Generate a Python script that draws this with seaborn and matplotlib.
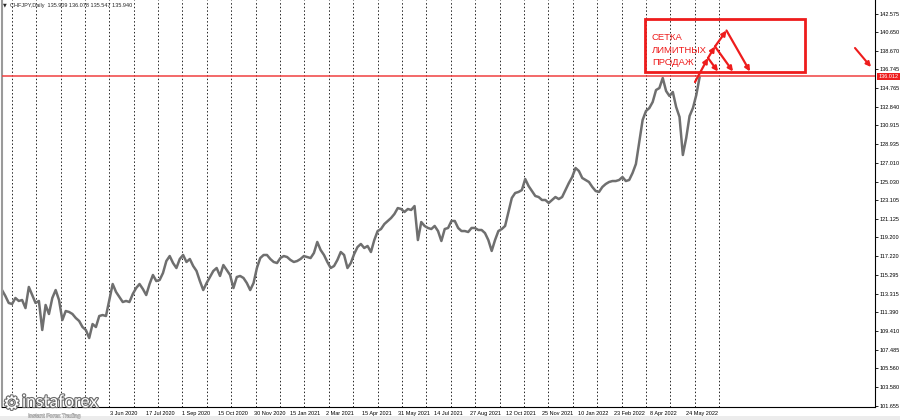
import numpy as np
import pandas as pd
import matplotlib
matplotlib.use('Agg')
import matplotlib.pyplot as plt
import matplotlib.patheffects as pe
from matplotlib.patches import Rectangle
import seaborn as sns

# CHFJPY daily, one close read every 3 bars (Jan 2020 -> Jun 2022)
closes = [
    113.71, 113.09, 112.36, 112.25, 112.88, 112.57, 112.67, 111.83, 114.03, 113.19,
    112.36, 112.57, 109.54, 112.15, 111.21, 112.88, 113.71, 112.67, 110.58, 111.52,
    111.42, 111.21, 110.79, 110.48, 109.85, 109.54, 108.70, 110.16, 109.85, 111.00,
    111.10, 111.00, 112.67, 114.34, 113.51, 112.98, 112.46, 112.57, 112.46, 113.30,
    113.92, 114.34, 113.82, 113.19, 114.34, 115.28, 114.65, 114.76, 115.49, 116.74,
    117.26, 116.53, 116.01, 116.95, 117.37, 116.64, 116.95, 116.22, 115.70, 114.65,
    113.71, 114.44, 115.07, 115.70, 116.01, 115.18, 116.32, 115.80, 115.28, 113.92,
    115.07, 115.18, 114.97, 114.44, 113.71, 114.44, 116.01, 117.05, 117.37, 117.37,
    116.95, 116.64, 116.53, 117.05, 117.26, 117.16, 116.85, 116.64, 116.74, 116.95,
    117.26, 117.16, 117.05, 117.58, 118.73, 117.89, 117.37, 116.64, 116.01, 116.22,
    116.85, 117.68, 117.37, 116.01, 116.53, 117.47, 118.20, 118.52, 118.10, 118.31,
    117.68, 118.93, 119.87, 120.08, 120.60, 120.92, 121.23, 121.65, 122.27, 122.17,
    121.86, 122.17, 122.07, 122.48, 118.93, 120.81, 120.40, 120.19, 120.08, 120.40,
    119.87, 118.83, 120.08, 120.19, 120.92, 120.92, 120.19, 119.87, 119.87, 119.77,
    120.19, 120.19, 119.98, 119.98, 119.66, 118.93, 117.79, 118.93, 119.87, 120.08,
    120.40, 121.86, 123.32, 123.84, 123.95, 124.15, 125.30, 124.57, 124.05, 123.53,
    123.42, 123.11, 123.11, 122.80, 123.11, 123.42, 123.21, 123.42, 124.15, 124.88,
    125.51, 126.45, 126.14, 125.41, 125.20, 124.99, 124.47, 124.05, 123.95, 124.47,
    124.78, 124.99, 125.09, 125.09, 125.20, 125.51, 125.09, 125.20, 125.93, 126.87,
    129.17, 131.46, 132.40, 132.71, 133.34, 134.59, 134.80, 135.85, 134.49, 133.97,
    134.39, 132.82, 131.78, 127.81, 129.58, 131.88, 132.71, 134.07, 135.94,
]
bar_step = 3

# first three labels sit under the watermark and are not readable
date_labels = ['', '', '', '3 Jun 2020', '17 Jul 2020',
               '1 Sep 2020', '15 Oct 2020', '30 Nov 2020', '15 Jan 2021', '2 Mar 2021',
               '15 Apr 2021', '31 May 2021', '14 Jul 2021', '27 Aug 2021', '12 Oct 2021',
               '25 Nov 2021', '10 Jan 2022', '23 Feb 2022', '8 Apr 2022', '24 May 2022']
label_step = 32.2  # bars between date labels

price_ticks = [142.575, 140.650, 138.670, 136.745, 134.765, 132.840, 130.915, 128.935,
               127.010, 125.030, 123.105, 121.125, 119.200, 117.220, 115.295, 113.315,
               111.390, 109.410, 107.485, 105.560, 103.580, 101.655]
last_price = 136.012
header = 'CHFJPY,Daily  135.909 136.078 135.547 135.940'
note_lines = ['СЕТКА', 'ЛИМИТНЫХ', 'ПРОДАЖ']

df = pd.DataFrame({'bar': np.arange(len(closes)) * bar_step, 'close': closes})

sns.set_style('white')
plt.rcParams['font.family'] = ['Liberation Sans', 'DejaVu Sans']

W, H = 900, 420
fig = plt.figure(figsize=(9, 4.2), dpi=100)
ax = fig.add_axes([2 / W, 13 / H, 873 / W, 1 - 13 / H])

# dotted vertical grid (MT4 style)
for k in range(30):
    ax.axvline(8.7 + 21.82 * k, color='#222222', lw=0.7, ls=(0, (1.5, 2.2)), zorder=0)

sns.lineplot(data=df, x='bar', y='close', ax=ax, color='#6f6f6f', linewidth=1.8, zorder=2)

px_per_bar = 1.118
ax.set_xlim(0, 873 / px_per_bar)
ax.set_ylim(101.50, 143.99)
ax.set_xlabel('')
ax.set_ylabel('')

ax.yaxis.tick_right()
ax.set_yticks(price_ticks)
ax.set_yticklabels([f'{v:.3f}' for v in price_ticks])
ax.tick_params(axis='y', length=2, width=0.6, pad=1.5, labelsize=4, colors='black')

ax.set_xticks([i * label_step for i in range(len(date_labels))])
ax.set_xticklabels(date_labels, ha='left')
ax.tick_params(axis='x', length=2, width=0.6, pad=1, labelsize=4, colors='black')

ax.spines['top'].set_visible(False)
ax.spines['left'].set_color('#9a9a9a')
ax.spines['left'].set_linewidth(1.5)
for s in ['right', 'bottom']:
    ax.spines[s].set_color('black')
    ax.spines[s].set_linewidth(0.8)

# current price line and tag
red = '#ee1c1c'
ax.axhline(last_price, color='#f04040', lw=1.1, zorder=3)
ax.text(1.004, last_price, f'{last_price:.3f}', transform=ax.get_yaxis_transform(),
        fontsize=4, color='white', va='center', ha='left', clip_on=False,
        bbox=dict(boxstyle='square,pad=0.25', fc=red, ec='none'))


def px(x, y):
    # image pixel (from top-left) -> data coords
    return ax.transData.inverted().transform(fig.transFigure.transform((x / W, 1 - y / H)))


# annotation box
x0, y0 = px(645, 72)
x1, y1 = px(805, 19)
ax.add_patch(Rectangle((x0, y0), x1 - x0, y1 - y0, fill=False, ec=red, lw=2, clip_on=False, zorder=5))
for line, yy in zip(note_lines, [37.5, 50.5, 62.5]):
    ax.text(*px(652, yy), line, color=red, fontsize=6.8, va='center', ha='left', zorder=6)

arrow = dict(arrowstyle='-|>', color=red, lw=1.6, mutation_scale=7, shrinkA=0, shrinkB=0)
apexes = [(708, 58), (715, 46.5), (726.5, 30.5)]
ups = [((695, 82), apexes[0]), (apexes[0], apexes[1]), (apexes[1], apexes[2])]
downs = [(apexes[0], (718, 71.5)), (apexes[1], (733, 71.5)), (apexes[2], (750, 71.5))]
for a, b in ups + downs:
    ax.annotate('', xy=px(*b), xytext=px(*a), arrowprops=arrow, annotation_clip=False, zorder=6)
ax.annotate('', xy=px(871, 67), xytext=px(855, 48), arrowprops=dict(arrow, lw=1.5),
            annotation_clip=False)

# header
fig.text(3 / W, 1 - 5 / H, '▼', fontsize=3.5, va='center', family=['DejaVu Sans'])
fig.text(10 / W, 1 - 5 / H, header, fontsize=4, va='center')

# bottom strip
fig.add_artist(Rectangle((0, 0), 1, 4 / H, transform=fig.transFigure, fc='#ececec', ec='none', zorder=-1))

# watermark logo
halo = [pe.withStroke(linewidth=1.6, foreground='#6a6a6a')]
fig.text(3 / W, 1 - 404 / H, '⚙', fontsize=14, color='white', va='center',
         family=['DejaVu Sans'], path_effects=halo)
fig.text(22 / W, 1 - 402 / H, 'instaforex', fontsize=12.5, color='white', va='center',
         family=['Lato', 'DejaVu Sans'], path_effects=halo)
fig.text(28 / W, 1 - 416 / H, 'Instant Forex Trading', fontsize=4, color='#f4f4f4', va='center',
         path_effects=[pe.withStroke(linewidth=0.5, foreground='#9a9a9a')])

fig.savefig('out.png', dpi=100)
